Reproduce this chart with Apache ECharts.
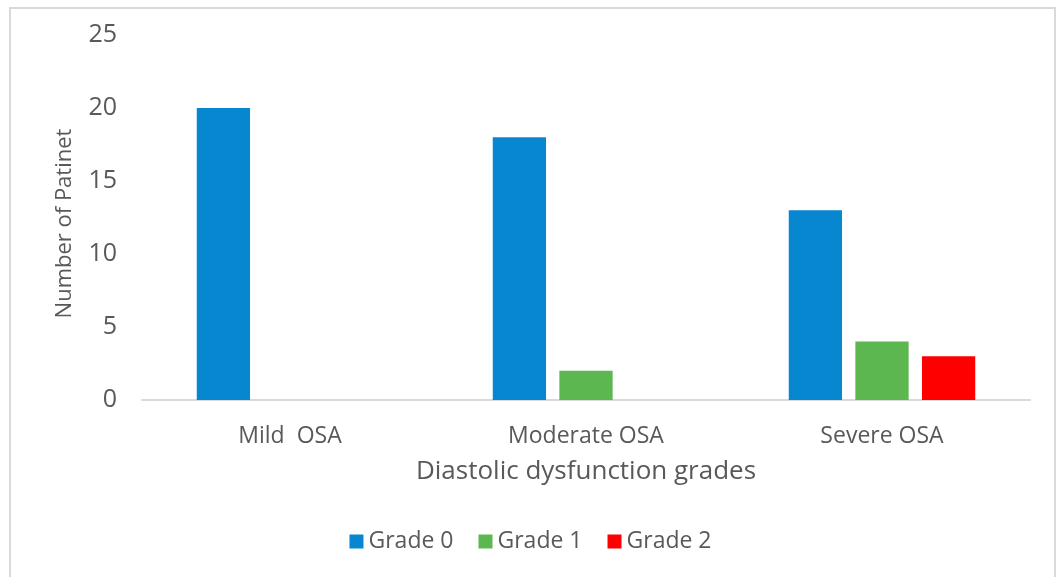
<!DOCTYPE html>
<html>
<head>
<meta charset="utf-8">
<script src="https://cdn.jsdelivr.net/npm/echarts@6/dist/echarts.min.js"></script>
<style>
html, body { margin: 0; padding: 0; background: #fff; }
#chart { width: 1061px; height: 577px; }
</style>
</head>
<body>
<div id="chart"></div>
<script>
var categories = ['Mild  OSA', 'Moderate OSA', 'Severe OSA']
var grade0 = [20, 18, 13]
var grade1 = [0, 2, 4]
var grade2 = [0, 0, 3]
var yTicks = [0, 5, 10, 15, 20, 25]

var mychart = echarts.init(document.getElementById('chart'))
var font = 'Open Sans'
var txt = '#595959'

mychart.setOption({
    animation: false,
    graphic: [{
        type: 'rect',
        shape: { x: 10, y: 8, width: 1045, height: 600 },
        style: { fill: 'none', stroke: '#d9d9d9', lineWidth: 2 }
    }],
    grid: { left: 142, right: 31, top: 35, bottom: 177 },
    legend: {
        bottom: 19,
        left: 'center',
        itemWidth: 14,
        itemHeight: 14,
        itemGap: 25,
        icon: 'rect',
        textStyle: { color: txt, fontSize: 23, fontFamily: font },
        data: ['Grade 0', 'Grade 1', 'Grade 2']
    },
    xAxis: {
        type: 'category',
        data: categories,
        name: 'Diastolic dysfunction grades',
        nameLocation: 'middle',
        nameGap: 59,
        nameTextStyle: { color: txt, fontSize: 26, fontFamily: font },
        axisLine: { lineStyle: { color: '#d9d9d9', width: 2 } },
        axisTick: { show: false },
        axisLabel: { color: txt, fontSize: 23, fontFamily: font, margin: 25 }
    },
    yAxis: {
        type: 'value',
        min: yTicks[0],
        max: yTicks[yTicks.length - 1],
        interval: 5,
        name: 'Number of Patinet',
        nameLocation: 'middle',
        nameGap: 66,
        nameTextStyle: { color: txt, fontSize: 22, fontFamily: font, padding: [0, 12, 0, 0] },
        splitLine: { show: false },
        axisLine: { show: false },
        axisTick: { show: false },
        axisLabel: { color: txt, fontSize: 25, fontFamily: font, margin: 25 }
    },
    series: [
        { name: 'Grade 0', type: 'bar', data: grade0, barWidth: '18%', barGap: '25%', itemStyle: { color: '#0787D0' } },
        { name: 'Grade 1', type: 'bar', data: grade1, barWidth: '18%', barGap: '25%', itemStyle: { color: '#5CB751' } },
        { name: 'Grade 2', type: 'bar', data: grade2, barWidth: '18%', barGap: '25%', itemStyle: { color: '#FF0000' } }
    ]
})
</script>
</body>
</html>
